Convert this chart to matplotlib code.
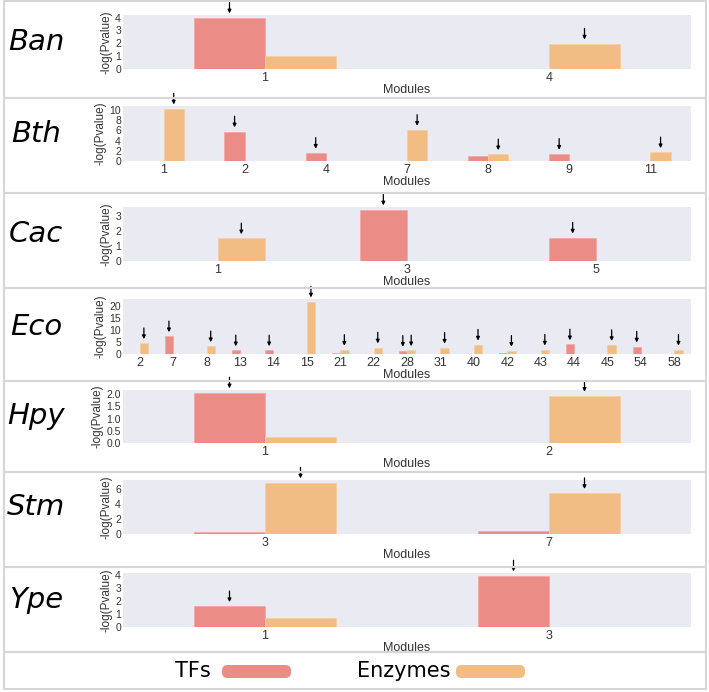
import matplotlib
matplotlib.use("Agg")
import matplotlib.pyplot as plt
from matplotlib.patches import Rectangle, FancyBboxPatch
from matplotlib.ticker import MultipleLocator
import numpy as np

W, H = 709, 692

TF_COLOR = "#ec8c87"
ENZ_COLOR = "#f1bd85"
BG = "#eaeaf2"

SPECIES = ["Ban", "Bth", "Cac", "Eco", "Hpy", "Stm", "Ype"]

# modules, -log(P) for TFs / Enzymes, significance arrows (1 = arrow)
BAN_MODULES = ["1", "4"]
BAN_TF = [4.0, 0.0]
BAN_ENZ = [1.0, 1.97]
BAN_TF_SIG = [1, 0]
BAN_ENZ_SIG = [0, 1]

BTH_MODULES = ["1", "2", "4", "7", "8", "9", "11"]
BTH_TF = [0.0, 5.8, 1.6, 0.0, 1.0, 1.4, 0.0]
BTH_ENZ = [10.3, 0.0, 0.0, 6.1, 1.3, 0.0, 1.7]
BTH_TF_SIG = [0, 1, 1, 0, 0, 1, 0]
BTH_ENZ_SIG = [1, 0, 0, 1, 1, 0, 1]

CAC_MODULES = ["1", "3", "5"]
CAC_TF = [0.0, 3.44, 1.56]
CAC_ENZ = [1.51, 0.03, 0.0]
CAC_TF_SIG = [0, 1, 1]
CAC_ENZ_SIG = [1, 0, 0]

ECO_MODULES = ["2", "7", "8", "13", "14", "15", "21", "22", "28", "31",
               "40", "42", "43", "44", "45", "54", "58"]
ECO_TF = [0.0, 7.4, 0.0, 1.5, 1.5, 0.0, 0.6, 0.0, 1.3, 0.2,
          0.0, 0.6, 0.0, 4.0, 0.0, 3.1, 0.0]
ECO_ENZ = [4.5, 0.0, 3.2, 0.0, 0.0, 22.0, 1.7, 2.7, 1.5, 2.6,
           3.9, 1.3, 1.8, 0.0, 3.7, 0.0, 1.8]
ECO_TF_SIG = [0, 1, 0, 1, 1, 0, 0, 0, 1, 0, 0, 0, 0, 1, 0, 1, 0]
ECO_ENZ_SIG = [1, 0, 1, 0, 0, 1, 1, 1, 1, 1, 1, 1, 1, 0, 1, 0, 1]

HPY_MODULES = ["1", "2"]
HPY_TF = [2.07, 0.01]
HPY_ENZ = [0.25, 1.93]
HPY_TF_SIG = [1, 0]
HPY_ENZ_SIG = [0, 1]

STM_MODULES = ["3", "7"]
STM_TF = [0.3, 0.43]
STM_ENZ = [6.8, 5.4]
STM_TF_SIG = [0, 0]
STM_ENZ_SIG = [1, 1]

YPE_MODULES = ["1", "3"]
YPE_TF = [1.6, 3.97]
YPE_ENZ = [0.7, 0.0]
YPE_TF_SIG = [1, 1]
YPE_ENZ_SIG = [0, 0]

Y_STEPS = [1, 2, 1, 5, 0.5, 2, 1]

PANELS = [
    (BAN_MODULES, BAN_TF, BAN_ENZ, BAN_TF_SIG, BAN_ENZ_SIG),
    (BTH_MODULES, BTH_TF, BTH_ENZ, BTH_TF_SIG, BTH_ENZ_SIG),
    (CAC_MODULES, CAC_TF, CAC_ENZ, CAC_TF_SIG, CAC_ENZ_SIG),
    (ECO_MODULES, ECO_TF, ECO_ENZ, ECO_TF_SIG, ECO_ENZ_SIG),
    (HPY_MODULES, HPY_TF, HPY_ENZ, HPY_TF_SIG, HPY_ENZ_SIG),
    (STM_MODULES, STM_TF, STM_ENZ, STM_TF_SIG, STM_ENZ_SIG),
    (YPE_MODULES, YPE_TF, YPE_ENZ, YPE_TF_SIG, YPE_ENZ_SIG),
]

# pixel layout (top, bottom) of each axes
AX_ROWS = [(15, 69), (106, 161), (207, 261), (299, 354), (390, 443), (480, 534), (573, 627)]
AX_LEFT, AX_RIGHT = 123, 691
SEPARATORS = [1, 98, 193, 288, 381, 472, 567, 652, 689]

plt.rcParams["font.family"] = ["Liberation Sans", "DejaVu Sans"]

fig = plt.figure(figsize=(W / 100, H / 100), dpi=100)


def px_rect(l, t, r, b):
    return [l / W, 1 - b / H, (r - l) / W, (b - t) / H]


def add_arrow(ax, xi, v):
    ax.annotate("", xy=(xi, v), xytext=(0, 11), textcoords="offset points",
                xycoords="data", annotation_clip=False,
                arrowprops=dict(arrowstyle="-|>", color="black", lw=0.9,
                                shrinkA=0, shrinkB=3, mutation_scale=5))


# panel frames
for top, bot in zip(SEPARATORS[:-1], SEPARATORS[1:]):
    fig.patches.append(Rectangle((4 / W, 1 - bot / H), 702 / W, (bot - top) / H,
                                 transform=fig.transFigure, fill=False,
                                 edgecolor="#d6d6d6", lw=1.5))

bw = 0.25
for name, (mods, tf, enz, tf_sig, enz_sig), (t, b), ystep in zip(SPECIES, PANELS, AX_ROWS, Y_STEPS):
    ax = fig.add_axes(px_rect(AX_LEFT, t, AX_RIGHT, b))
    ax.set_facecolor(BG)
    x = np.arange(len(mods))
    ax.bar(x - bw / 2, tf, width=bw, color=TF_COLOR, edgecolor="#f2aaa6", lw=0.6)
    ax.bar(x + bw / 2, enz, width=bw, color=ENZ_COLOR, edgecolor="#f5cfa5", lw=0.6)
    for xi, v, s in zip(x - bw / 2, tf, tf_sig):
        if s:
            add_arrow(ax, xi, v)
    for xi, v, s in zip(x + bw / 2, enz, enz_sig):
        if s:
            add_arrow(ax, xi, v)
    ymax = max(max(tf), max(enz))
    ax.set_ylim(0, ymax * 1.05)
    ax.set_xlim(-0.5, len(mods) - 0.5)
    ax.yaxis.set_major_locator(MultipleLocator(ystep))
    ax.set_xticks(x, mods)
    for sp in ax.spines.values():
        sp.set_visible(False)
    ax.tick_params(length=0, labelsize=9, colors="#333333", pad=2)
    ax.tick_params(axis="y", pad=1.5, labelsize=7.5)
    ax.set_xlabel("Modules", fontsize=9, color="#333333", labelpad=0)
    ax.set_ylabel("-log(Pvalue)", fontsize=8.5, color="#333333", labelpad=2)
    fig.text(36 / W, 1 - ((t + b) / 2) / H, name, fontsize=21, style="italic",
             ha="center", va="center", family="DejaVu Sans")

# legend row
fig.text(193 / W, 1 - 671 / H, "TFs", fontsize=15, ha="center", va="center",
         family="DejaVu Sans")
fig.text(404 / W, 1 - 671 / H, "Enzymes", fontsize=15, ha="center", va="center",
         family="DejaVu Sans")
for x0, col in [(222, TF_COLOR), (456, ENZ_COLOR)]:
    fig.patches.append(FancyBboxPatch((x0 / W, 1 - 678 / H), 69 / W, 13 / H,
                                      boxstyle="round,pad=0,rounding_size=0.008",
                                      transform=fig.transFigure, facecolor=col,
                                      edgecolor="none"))

fig.savefig("out.png", dpi=100, facecolor="white")
